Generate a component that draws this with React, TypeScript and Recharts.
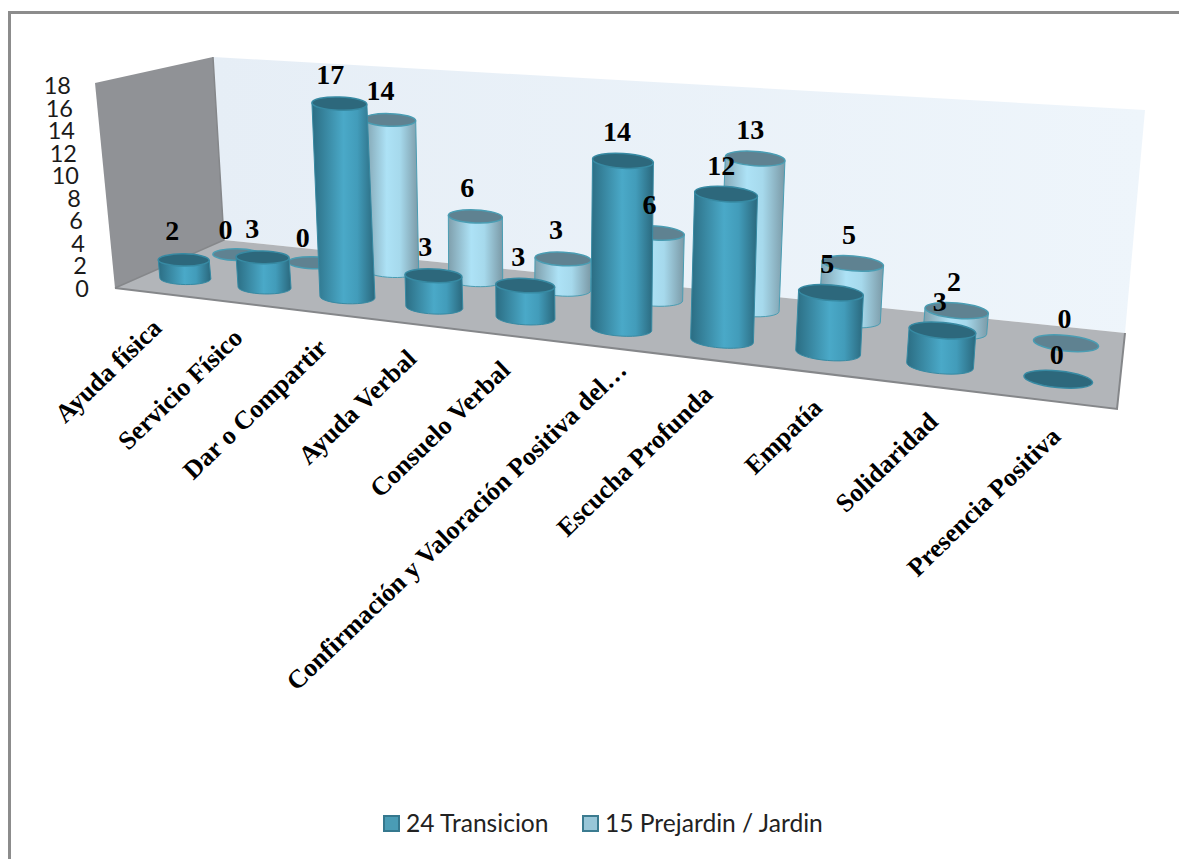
import React from "react";
import { BarChart, Bar, XAxis, YAxis, Legend, LabelList, Customized } from "recharts";

const categories = [
  "Ayuda física",
  "Servicio Físico",
  "Dar o Compartir",
  "Ayuda Verbal",
  "Consuelo Verbal",
  "Confirmación y Valoración Positiva del…",
  "Escucha Profunda",
  "Empatía",
  "Solidaridad",
  "Presencia Positiva",
];
const transicion = [2, 3, 17, 3, 3, 14, 12, 5, 3, 0];
const prejardin = [0, 0, 14, 6, 3, 6, 13, 5, 2, 0];
const yTicks = [0, 2, 4, 6, 8, 10, 12, 14, 16, 18];

const data = categories.map((name, i) => ({ name, transicion: transicion[i], prejardin: prejardin[i] }));

const W = 1179;
const H = 859;
const PLOT_LEFT = 115;
const PLOT_RIGHT = 1117;
const PLOT_TOP = 85;
const PLOT_BOTTOM = 288;
const BAR = 51;
const FRONT = 0.27;
const BACK = 0.76;
const CAP_DROP = 4;

// floor corners of the 3d box
const FL = [115, 288];
const FR = [1117, 409];
const BR = [1125, 333];
const BL = [224, 240];
// how far a full axis height moves a floor corner on screen
const UP_FL = [-20, -205];
const UP_FR = [22, -250];
const UP_BR = [20, -223];
const UP_BL = [-11, -183];

const dx1 = FR[0] - BR[0];
const dy1 = FR[1] - BR[1];
const dx2 = BL[0] - BR[0];
const dy2 = BL[1] - BR[1];
const sx = FL[0] - FR[0] + BR[0] - BL[0];
const sy = FL[1] - FR[1] + BR[1] - BL[1];
const det = dx1 * dy2 - dx2 * dy1;
const hg = (sx * dy2 - dx2 * sy) / det;
const hh = (dx1 * sy - sx * dy1) / det;

function floorPoint(u: number, d: number) {
  const w = hg * u + hh * d + 1;
  const x = ((FR[0] - FL[0] + hg * FR[0]) * u + (BL[0] - FL[0] + hh * BL[0]) * d + FL[0]) / w;
  const y = ((FR[1] - FL[1] + hg * FR[1]) * u + (BL[1] - FL[1] + hh * BL[1]) * d + FL[1]) / w;
  return [x, y];
}

function project(u: number, d: number, frac: number) {
  const [x, y] = floorPoint(u, d);
  const s = (x - PLOT_LEFT) / (PLOT_RIGHT - PLOT_LEFT);
  const mix = (k: number) =>
    (1 - d) * ((1 - s) * UP_FL[k] + s * UP_FR[k]) + d * ((1 - s) * UP_BL[k] + s * UP_BR[k]);
  return [x + mix(0) * frac, y + mix(1) * frac];
}

const bandU = (x: number, width: number) => (x + width / 2 - PLOT_LEFT) / (PLOT_RIGHT - PLOT_LEFT);
const poly = (pts: number[][]) => pts.map((p) => p.join(",")).join(" ");

function Walls() {
  const topFL = [FL[0] + UP_FL[0], FL[1] + UP_FL[1]];
  const topBL = [BL[0] + UP_BL[0], BL[1] + UP_BL[1]];
  const topBR = [BR[0] + UP_BR[0], BR[1] + UP_BR[1]];
  return (
    <g>
      <defs>
        <linearGradient id="wallGrad" x1="0" y1="0" x2="1" y2="0">
          <stop offset="0%" stopColor="#e6eef6" />
          <stop offset="100%" stopColor="#eef5fb" />
        </linearGradient>
        <linearGradient id="frontBody" x1="0" y1="0" x2="1" y2="0">
          <stop offset="0%" stopColor="#2b6d83" />
          <stop offset="50%" stopColor="#4aa9c8" />
          <stop offset="72%" stopColor="#429cba" />
          <stop offset="100%" stopColor="#2a687d" />
        </linearGradient>
        <linearGradient id="backBody" x1="0" y1="0" x2="1" y2="0">
          <stop offset="0%" stopColor="#7f9fac" />
          <stop offset="42%" stopColor="#ade2f6" />
          <stop offset="66%" stopColor="#a6d9ec" />
          <stop offset="100%" stopColor="#7b99a6" />
        </linearGradient>
      </defs>
      <polygon points={poly([topBL, topBR, BR, BL])} fill="url(#wallGrad)" />
      <polygon points={poly([topFL, topBL, BL, FL])} fill="#909296" />
      <polygon points={poly([FL, BL, BR, FR])} fill="#b2b5b9" />
      <polyline points={poly([topBL, BL, FL])} fill="none" stroke="#85878a" strokeWidth={1.5} />
      <polyline points={poly([FL, FR, BR])} fill="none" stroke="#85878a" strokeWidth={2} />
    </g>
  );
}

function makeCylinder(depth: number, body: string, capFill: string, capStroke: string) {
  return function Cylinder(props: any) {
    const { x, width, height } = props;
    const u = bandU(x, width);
    const frac = height / (PLOT_BOTTOM - PLOT_TOP);
    const rx = (width * (1 + 0.4 * u) * (depth === FRONT ? 0.98 : 0.93)) / 2;
    const ry = rx * 0.24;
    const [bx, by] = project(u, depth, 0);
    const [tx, topY] = project(u, depth, frac);
    const ty = height > 0 ? topY + CAP_DROP : topY;
    const rot = 0.5 + 5.5 * u;
    const cap = <ellipse cx={tx} cy={ty} rx={rx} ry={ry} fill={capFill} stroke={capStroke} strokeWidth={1.5} transform={`rotate(${rot} ${tx} ${ty})`} />;
    if (height <= 0) return cap;
    const c = Math.cos((rot * Math.PI) / 180) * rx;
    const s = Math.sin((rot * Math.PI) / 180) * rx;
    const d = `M${tx - c},${ty - s} L${bx - c},${by - s} A${rx},${ry} ${rot} 0 0 ${bx + c},${by + s} L${tx + c},${ty + s} Z`;
    return (
      <g>
        <path d={d} fill={body} stroke={capStroke} strokeWidth={1} />
        {cap}
      </g>
    );
  };
}

const FrontCylinder = makeCylinder(FRONT, "url(#frontBody)", "#2d687c", "#378aa3");
const BackCylinder = makeCylinder(BACK, "url(#backBody)", "#5f8291", "#4a9db3");

function makeValueLabel(depth: number) {
  return function ValueLabel(props: any) {
    const { x, width, height, value } = props;
    const u = bandU(x, width);
    const [tx, ty] = project(u, depth, height / (PLOT_BOTTOM - PLOT_TOP));
    return (
      <text x={tx - 12 + 11 * u} y={ty - 25} textAnchor="middle" dominantBaseline="central" fontFamily="Liberation Serif" fontWeight="bold" fontSize={28} fill="#000">
        {value}
      </text>
    );
  };
}

function CategoryTick(props: any) {
  const { x, payload } = props;
  const u = (x - PLOT_LEFT) / (PLOT_RIGHT - PLOT_LEFT);
  const [fx, fy] = floorPoint(u, 0);
  // the cut-off label sits a little further up its own line
  const cut = String(payload.value).endsWith("…");
  const tx = fx + 9 + (cut ? 18 : 0);
  const ty = fy + 37 - (cut ? 12 : 0);
  return (
    <text x={tx} y={ty} textAnchor="end" transform={`rotate(-44 ${tx} ${ty})`} fontFamily="Liberation Serif" fontWeight="bold" fontSize={26} fill="#000">
      {payload.value}
    </text>
  );
}

function ValueTick(props: any) {
  const { y, payload } = props;
  return (
    <text x={89 - payload.value} y={y} textAnchor="end" dominantBaseline="central" fontFamily="Lato" fontSize={23.5} fill="#1a1a1a">
      {payload.value}
    </text>
  );
}

function LegendBox() {
  const items = [
    { label: "24 Transicion", fill: "#4a9cb5", stroke: "#35788e", width: 199 },
    { label: "15 Prejardin / Jardin", fill: "#98c6d8", stroke: "#3b7b90", width: 260 },
  ];
  return (
    <div style={{ display: "flex", justifyContent: "flex-start", paddingLeft: 383, fontFamily: "Lato", fontSize: 24.6, color: "#222", lineHeight: "28px" }}>
      {items.map((it) => (
        <div key={it.label} style={{ display: "flex", alignItems: "center", width: it.width }}>
          <span style={{ width: 13, height: 13, background: it.fill, border: `2px solid ${it.stroke}`, marginRight: 6 }} />
          {it.label}
        </div>
      ))}
    </div>
  );
}

export default function App() {
  return (
    <div style={{ position: "absolute", left: 0, top: 0, width: W, height: H, background: "#fff", overflow: "hidden" }}>
      <div style={{ position: "absolute", left: 8, top: 11, width: W, height: H, borderLeft: "3px solid #8c8c8c", borderTop: "3px solid #8c8c8c" }} />
      <BarChart
        width={W}
        height={H}
        data={data}
        barSize={BAR}
        barGap={-BAR}
        margin={{ top: PLOT_TOP, left: PLOT_LEFT - 1, right: W - PLOT_RIGHT, bottom: H - PLOT_BOTTOM - 1 }}
      >
        <Customized component={Walls} />
        <XAxis dataKey="name" height={1} interval={0} axisLine={false} tickLine={false} tick={CategoryTick} />
        <YAxis width={1} domain={[0, 18]} ticks={yTicks} interval={0} axisLine={false} tickLine={false} tick={ValueTick} />
        <Legend verticalAlign="middle" align="center" content={LegendBox} wrapperStyle={{ top: 809, left: 0, width: W }} />
        <Bar dataKey="prejardin" name="15 Prejardin / Jardin" shape={BackCylinder} isAnimationActive={false}>
          <LabelList dataKey="prejardin" content={makeValueLabel(BACK)} />
        </Bar>
        <Bar dataKey="transicion" name="24 Transicion" shape={FrontCylinder} isAnimationActive={false}>
          <LabelList dataKey="transicion" content={makeValueLabel(FRONT)} />
        </Bar>
      </BarChart>
    </div>
  );
}
